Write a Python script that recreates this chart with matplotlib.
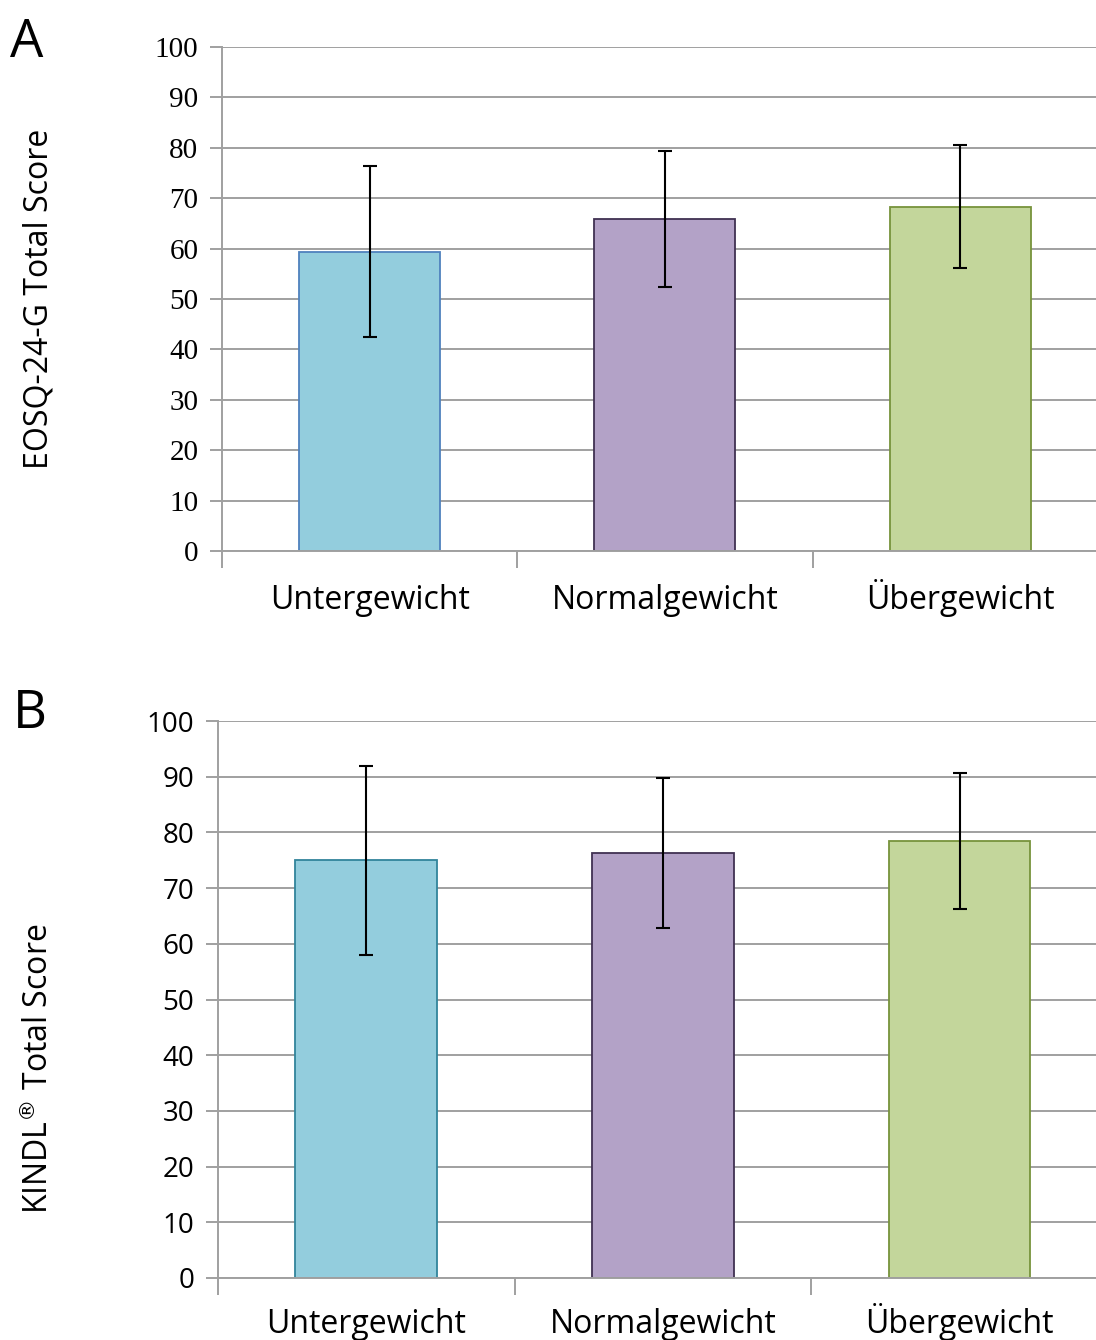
import matplotlib.pyplot as plt
import matplotlib.transforms as mtransforms
import numpy as np

categories = ['Untergewicht', 'Normalgewicht', 'Übergewicht']

# Panel A: EOSQ-24-G
eosq_mean = [59.4, 65.9, 68.3]
eosq_sd = [17.0, 13.5, 12.2]

# Panel B: KINDL
kindl_mean = [75.0, 76.3, 78.5]
kindl_sd = [17.0, 13.5, 12.2]

yticks = list(range(0, 101, 10))

fills = ['#93CDDD', '#B3A2C7', '#C3D69B']
edges_a = ['#4F81BD', '#403152', '#77933C']
edges_b = ['#31849B', '#403152', '#77933C']

grey = '#A0A0A0'

fig = plt.figure(figsize=(10.96, 13.4), dpi=100)


def draw_panel(ax, means, sds, edges, ylabel, tickfont, tickfs, label_y):
    x = np.arange(len(categories))
    ax.set_axisbelow(True)
    ax.yaxis.grid(True, color=grey, linewidth=1.4)
    ax.bar(x, means, width=0.478, color=fills, edgecolor=edges, linewidth=1.3, zorder=2)
    ax.errorbar(x, means, yerr=sds, fmt='none', ecolor='black', elinewidth=1.5,
                capsize=5, capthick=1.5, zorder=3)
    ax.set_ylim(0, 100)
    ax.set_xlim(-0.5, 2.46)
    ax.set_yticks(yticks)
    ax.set_yticklabels([str(t) for t in yticks], fontsize=tickfs, family=tickfont)
    ax.set_xticks([-0.5, 0.5, 1.5])
    ax.set_xticklabels(['', '', ''])
    ax.tick_params(axis='x', length=12, color=grey, width=1.4)
    ax.tick_params(axis='y', length=9, color=grey, width=1.4, pad=8)
    for s in ['top', 'right']:
        ax.spines[s].set_visible(False)
    for s in ['left', 'bottom']:
        ax.spines[s].set_color(grey)
        ax.spines[s].set_linewidth(1.4)
    # category names under the bars
    trans = mtransforms.blended_transform_factory(ax.transData, ax.transAxes)
    for xi, c in zip(x, categories):
        ax.text(xi, label_y, c, transform=trans, ha='center', va='baseline',
                fontsize=23, family='Open Sans')
    ax.set_ylabel(ylabel, fontsize=23, family='Open Sans', labelpad=0)


ax1 = fig.add_axes([0.2026, 0.5888, 0.7974, 0.3761])
draw_panel(ax1, eosq_mean, eosq_sd, edges_a, 'EOSQ-24-G Total Score',
           'Liberation Serif', 21, -0.115)
ax1.yaxis.set_label_coords(-0.19, 0.5)

ax2 = fig.add_axes([0.1989, 0.0463, 0.8011, 0.4156])
draw_panel(ax2, kindl_mean, kindl_sd, edges_b, 'KINDL$^{®}$ Total Score',
           'Open Sans', 20, -0.098)
ax2.yaxis.set_label_coords(-0.185, 0.375)

fig.text(0.009, 0.9575, 'A', fontsize=38, family='Open Sans', va='baseline')
fig.text(0.012, 0.4567, 'B', fontsize=38, family='Open Sans', va='baseline')

fig.savefig('out.png', dpi=100)
